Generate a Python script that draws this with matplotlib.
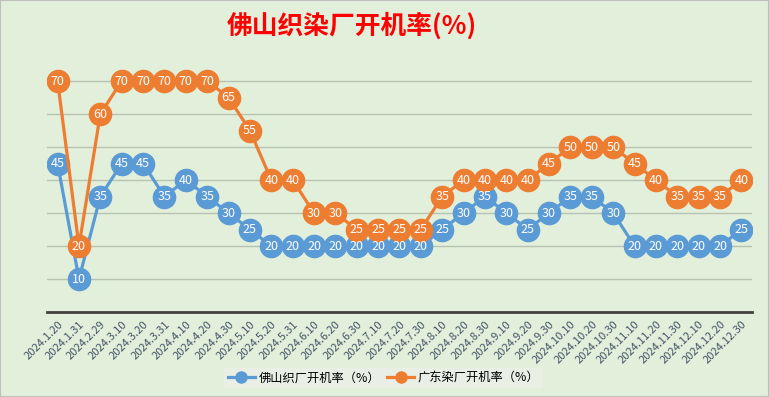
import matplotlib.pyplot as plt
from matplotlib.patches import Rectangle

plt.rcParams['font.family'] = ['Noto Sans CJK SC', 'DejaVu Sans']

dates = ['2024.1.20', '2024.1.31', '2024.2.29', '2024.3.10', '2024.3.20', '2024.3.31',
         '2024.4.10', '2024.4.20', '2024.4.30', '2024.5.10', '2024.5.20', '2024.5.31',
         '2024.6.10', '2024.6.20', '2024.6.30', '2024.7.10', '2024.7.20', '2024.7.30',
         '2024.8.10', '2024.8.20', '2024.8.30', '2024.9.10', '2024.9.20', '2024.9.30',
         '2024.10.10', '2024.10.20', '2024.10.30', '2024.11.10', '2024.11.20', '2024.11.30',
         '2024.12.10', '2024.12.20', '2024.12.30']
foshan = [45, 10, 35, 45, 45, 35, 40, 35, 30, 25, 20, 20, 20, 20, 20, 20, 20, 20,
          25, 30, 35, 30, 25, 30, 35, 35, 30, 20, 20, 20, 20, 20, 25]
guangdong = [70, 20, 60, 70, 70, 70, 70, 70, 65, 55, 40, 40, 30, 30, 25, 25, 25, 25,
             35, 40, 40, 40, 40, 45, 50, 50, 50, 45, 40, 35, 35, 35, 40]

bg = '#E2EFDA'
blue = '#5B9BD5'
orange = '#ED7D31'

fig = plt.figure(figsize=(7.69, 3.97), dpi=100, facecolor=bg)
ax = fig.add_axes([0.061, 0.214, 0.917, 0.665])
ax.set_facecolor(bg)

x = list(range(len(dates)))
for vals, col, name in [(foshan, blue, '佛山织厂开机率（%）'),
                        (guangdong, orange, '广东染厂开机率（%）')]:
    ax.plot(x, vals, color=col, lw=2.3, marker='o', ms=16, mec=col, label=name)
    for xi, v in zip(x, vals):
        ax.text(xi, v, str(v), color='white', fontsize=9, ha='center', va='center')

ax.set_xlim(-0.5, len(dates) - 0.5)
ax.set_ylim(0, 80)
ax.set_yticks([10, 20, 30, 40, 50, 60, 70])
ax.yaxis.grid(True, color='#B8C2B2', lw=1)
ax.set_axisbelow(True)
ax.tick_params(axis='y', left=False, labelleft=False)
ax.tick_params(axis='x', length=0, pad=5)
ax.set_xticks(x)
ax.set_xticklabels(dates, rotation=45, ha='right', rotation_mode='anchor',
                   fontsize=8, color='#44546A')
for s in ['top', 'right', 'left']:
    ax.spines[s].set_visible(False)
ax.spines['bottom'].set_color('#404040')
ax.spines['bottom'].set_linewidth(2)

fig.text(0.458, 0.935, '佛山织染厂开机率(%)', color='#FF0000', fontsize=18.5,
         fontweight='bold', ha='center', va='center')

leg = fig.legend(loc='center', bbox_to_anchor=(0.499, 0.048), ncol=2, fontsize=8.8,
                 frameon=True, fancybox=False, handlelength=2.2, handletextpad=0.3,
                 columnspacing=0.6, markerscale=0.5, borderpad=0.3)
leg.get_frame().set_facecolor('#EDF0EA')
leg.get_frame().set_edgecolor('none')

fig.patches.append(Rectangle((0, 0), 1, 1, transform=fig.transFigure, fill=False,
                             edgecolor='#BFBFBF', lw=1.5))

fig.savefig('out.png', dpi=100, facecolor=bg)
